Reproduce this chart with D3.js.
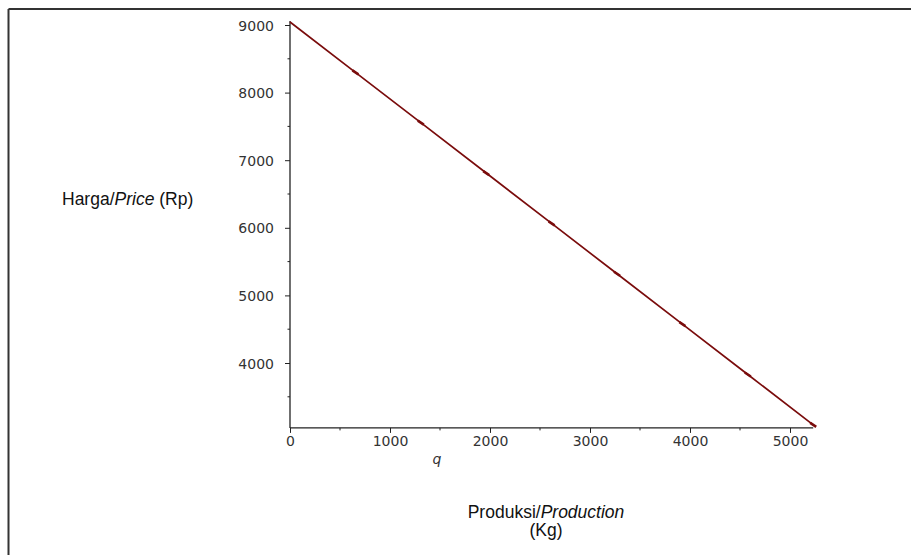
<!DOCTYPE html>
<html>
<head>
<meta charset="utf-8">
<script src="https://cdn.jsdelivr.net/npm/d3@7"></script>
<style>
body { margin:0; background:#fff; }
text { font-family: "DejaVu Sans", sans-serif; }
</style>
</head>
<body>
<div id="chart"></div>
<script>
// demand line: produksi q (kg) vs harga (Rp)
var qValues = [0, 654, 1308, 1962, 2616, 3270, 3924, 4578, 5232];
var priceValues = [9045, 8300, 7555, 6810, 6065, 5320, 4575, 3830, 3085];
var xTicks = [0, 1000, 2000, 3000, 4000, 5000];
var yTicks = [4000, 5000, 6000, 7000, 8000, 9000];

var W = 911, H = 555;
var svg = d3.select("#chart").append("svg").attr("width", W).attr("height", H);

// frame (only top and left edges visible)
svg.append("line").attr("x1", 8.5).attr("y1", 9).attr("x2", W).attr("y2", 9)
    .attr("stroke", "#333").attr("stroke-width", 2);
svg.append("line").attr("x1", 8.5).attr("y1", 9).attr("x2", 8.5).attr("y2", H)
    .attr("stroke", "#333").attr("stroke-width", 2);

var x = d3.scaleLinear().domain([0, 5000]).range([290, 790]);
var y = d3.scaleLinear().domain([4000, 9000]).range([363, 25]);
var yMin = 3040, xMax = 5232;

var g = svg.append("g");

// axes lines
g.append("line").attr("x1", x(0)).attr("x2", x(xMax)).attr("y1", y(yMin)).attr("y2", y(yMin))
    .attr("stroke", "#222").attr("stroke-width", 1.3);
g.append("line").attr("x1", x(0)).attr("x2", x(0)).attr("y1", y(yMin)).attr("y2", y(9000) - 4)
    .attr("stroke", "#222").attr("stroke-width", 1.3);

var xAxis = d3.axisBottom(x).tickValues(xTicks).tickSize(5).tickFormat(d3.format("d"));
var gx = g.append("g").attr("transform", "translate(0," + y(yMin) + ")").call(xAxis);
gx.select(".domain").remove();
gx.selectAll("line").attr("stroke", "#222");
gx.selectAll("text").attr("font-size", 14).attr("fill", "#333").attr("y", 18).attr("dy", 0);
// minor ticks
g.selectAll(".xminor").data([500, 1500, 2500, 3500, 4500]).enter().append("line")
    .attr("x1", d => x(d)).attr("x2", d => x(d)).attr("y1", y(yMin)).attr("y2", y(yMin) + 2.5)
    .attr("stroke", "#222");

var yAxis = d3.axisLeft(y).tickValues(yTicks).tickSize(5).tickFormat(d3.format("d"));
var gy = g.append("g").attr("transform", "translate(" + x(0) + ",0)").call(yAxis);
gy.select(".domain").remove();
gy.selectAll("line").attr("stroke", "#222");
gy.selectAll("text").attr("font-size", 14).attr("fill", "#333").attr("x", -16).attr("dy", "0.36em");
g.selectAll(".yminor").data([3500, 4500, 5500, 6500, 7500, 8500]).enter().append("line")
    .attr("x1", x(0) - 2.5).attr("x2", x(0)).attr("y1", d => y(d)).attr("y2", d => y(d))
    .attr("stroke", "#222");

// the line
var pts = qValues.map((q, i) => [q, priceValues[i]]);
g.append("path").datum(pts)
    .attr("d", d3.line().x(d => x(d[0])).y(d => y(d[1])))
    .attr("fill", "none").attr("stroke", "#7a0c0c").attr("stroke-width", 1.7);
// small point marks along the line
g.selectAll(".mk").data(pts.slice(1)).enter().append("line")
    .attr("x1", d => x(d[0]) - 3).attr("y1", d => y(d[1]) - 2)
    .attr("x2", d => x(d[0]) + 3).attr("y2", d => y(d[1]) + 2)
    .attr("stroke", "#7a0c0c").attr("stroke-width", 2.6);

// labels
svg.append("text").attr("x", 437).attr("y", 464).attr("font-size", 14)
    .attr("font-family", "DejaVu Serif").attr("font-style", "italic").attr("text-anchor", "middle")
    .attr("fill", "#333").text("q");

var yl = svg.append("text").attr("x", 62).attr("y", 205).attr("font-size", 17.5).attr("fill", "#111");
yl.append("tspan").style("font-family", "Liberation Sans").text("Harga/");
yl.append("tspan").style("font-family", "Liberation Sans").attr("font-style", "italic").text("Price");
yl.append("tspan").style("font-family", "Liberation Sans").text(" (Rp)");

var xl = svg.append("text").attr("x", 546).attr("y", 518).attr("font-size", 17.5)
    .attr("text-anchor", "middle").attr("fill", "#111");
xl.append("tspan").style("font-family", "Liberation Sans").text("Produksi/");
xl.append("tspan").style("font-family", "Liberation Sans").attr("font-style", "italic").text("Production");
svg.append("text").attr("x", 546).attr("y", 536).attr("font-size", 17.5)
    .attr("text-anchor", "middle").attr("fill", "#111").style("font-family", "Liberation Sans").text("(Kg)");
</script>
</body>
</html>
